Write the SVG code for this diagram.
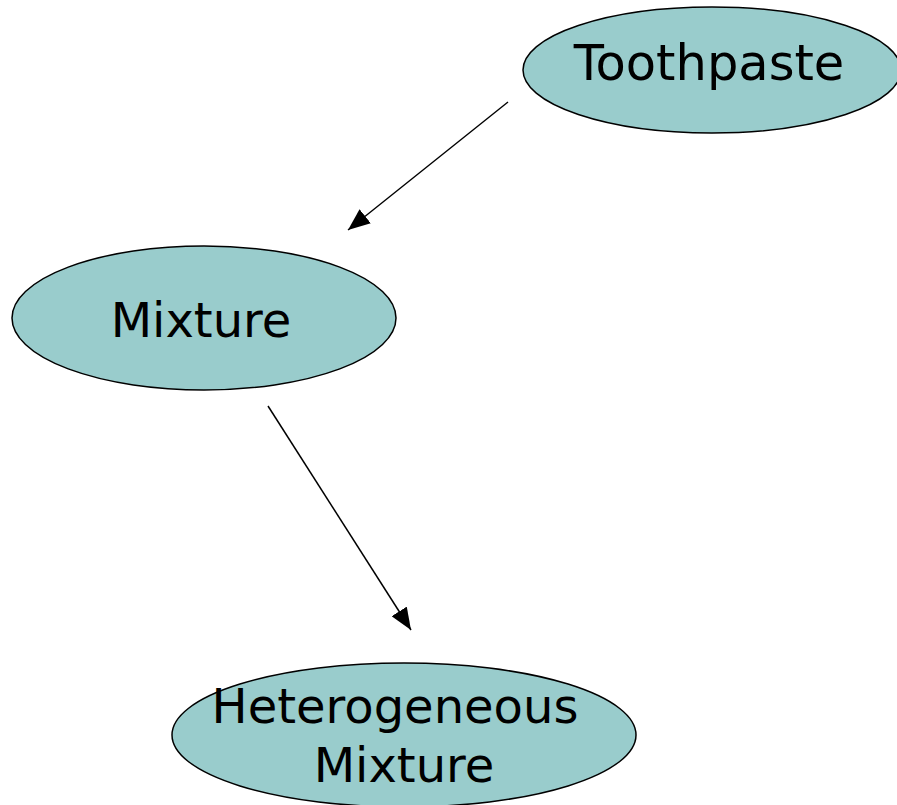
<svg xmlns="http://www.w3.org/2000/svg" width="897" height="805" viewBox="0 0 897 805">
  <style>
    .node ellipse { fill: #99cccc; stroke: #000000; stroke-width: 1.5; }
    .node text { font-family: "DejaVu Sans", Verdana, sans-serif; font-size: 48px; fill: #000000; text-anchor: middle; }
    .edge { stroke: #000000; stroke-width: 1.5; fill: none; marker-end: url(#arrow); }
  </style>
  <defs>
    <marker id="arrow" markerUnits="userSpaceOnUse" markerWidth="22" markerHeight="18" refX="22" refY="9" orient="auto">
      <path d="M0,0 L22,9 L0,18 z" fill="#000000"/>
    </marker>
  </defs>
  <rect width="897" height="805" fill="#ffffff"/>

  <g id="connectors">
    <line class="edge" x1="508" y1="102" x2="348" y2="230"/>
    <line class="edge" x1="268" y1="406" x2="411" y2="630"/>
  </g>

  <g id="toothpaste" class="node">
    <ellipse cx="712" cy="70" rx="189" ry="63"/>
    <text x="709" y="80" style="font-size:49.5px">Toothpaste</text>
  </g>

  <g id="mixture" class="node">
    <ellipse cx="204" cy="318" rx="192" ry="72"/>
    <text x="201" y="337">Mixture</text>
  </g>

  <g id="heterogeneous-mixture" class="node">
    <ellipse cx="404" cy="735" rx="232" ry="72"/>
    <text x="395" y="723">Heterogeneous</text>
    <text x="404" y="782">Mixture</text>
  </g>
</svg>
